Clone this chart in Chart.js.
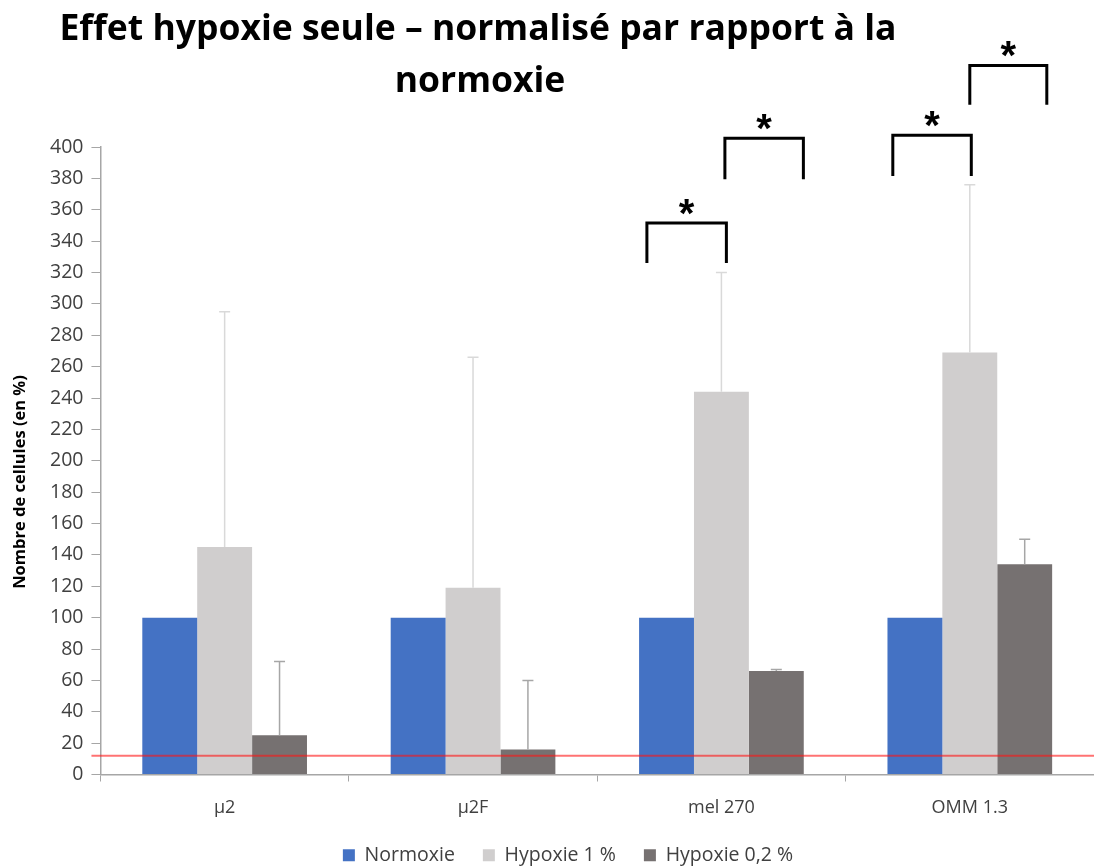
<!DOCTYPE html>
<html>
<head>
<meta charset="utf-8">
<script src="https://cdn.jsdelivr.net/npm/chart.js@4"></script>
<style>
  html, body { margin: 0; padding: 0; background: #fff; overflow: hidden; }
  #wrap { width: 1094px; height: 867px; position: relative; }
</style>
</head>
<body>
<div id="wrap"><canvas id="chart" width="1094" height="867"></canvas></div>
<script>
// Cell lines
const categories = ['µ2', 'µ2F', 'mel 270', 'OMM 1.3'];

// Cell counts normalised to normoxia (%)
const normoxie = [100, 100, 100, 100];
const hypoxie1 = [145, 119, 244, 269];
const hypoxie02 = [25, 16, 66, 134];

// Upper error bar lengths (%)
const hypoxie1Err = [150, 147, 76, 107];
const hypoxie02Err = [47, 44, 1, 16];

// Detection threshold
const seuil = 12;

// Y axis range
const yMin = 0, yMax = 400, yStep = 20;

// Significance brackets: category index, left/right offset (in category widths), top and leg-end values
const brackets = [
  { cat: 2, from: -0.30, to: 0.02, top: 351.5, leg: 326 },
  { cat: 2, from: 0.014, to: 0.33, top: 405.5, leg: 379.5 },
  { cat: 3, from: -0.31, to: 0.006, top: 407.5, leg: 381.5 },
  { cat: 3, from: 0.0, to: 0.31, top: 452, leg: 427 }
];

const errorBars = {
  id: 'errorBars',
  afterDatasetsDraw(chart) {
    const ctx = chart.ctx;
    const y = chart.scales.y;
    const sets = [
      { ds: 1, err: hypoxie1Err, vals: hypoxie1, color: '#d9d9d9' },
      { ds: 2, err: hypoxie02Err, vals: hypoxie02, color: '#a6a6a6' }
    ];
    ctx.save();
    ctx.lineWidth = 1.5;
    sets.forEach(s => {
      const meta = chart.getDatasetMeta(s.ds);
      ctx.strokeStyle = s.color;
      meta.data.forEach((bar, i) => {
        const x = bar.x;
        const y0 = y.getPixelForValue(s.vals[i]);
        const y1 = y.getPixelForValue(s.vals[i] + s.err[i]);
        ctx.beginPath();
        ctx.moveTo(x, y0);
        ctx.lineTo(x, y1);
        ctx.moveTo(x - 5.5, y1);
        ctx.lineTo(x + 5.5, y1);
        ctx.stroke();
      });
    });
    ctx.restore();
  }
};

const thresholdLine = {
  id: 'thresholdLine',
  afterDatasetsDraw(chart) {
    const ctx = chart.ctx;
    const a = chart.chartArea;
    const py = chart.scales.y.getPixelForValue(seuil);
    ctx.save();
    ctx.strokeStyle = 'rgba(255, 20, 20, 0.6)';
    ctx.lineWidth = 2;
    ctx.beginPath();
    ctx.moveTo(a.left - 9, py);
    ctx.lineTo(a.right, py);
    ctx.stroke();
    ctx.restore();
  }
};

const significance = {
  id: 'significance',
  afterDraw(chart) {
    const ctx = chart.ctx;
    const xs = chart.scales.x, ys = chart.scales.y;
    const cw = xs.getPixelForValue(1) - xs.getPixelForValue(0);
    ctx.save();
    ctx.strokeStyle = '#000';
    ctx.lineWidth = 3;
    ctx.lineJoin = 'miter';
    ctx.fillStyle = '#000';
    ctx.font = 'bold 40px "Liberation Sans", sans-serif';
    ctx.textAlign = 'center';
    ctx.textBaseline = 'alphabetic';
    brackets.forEach(b => {
      const c = xs.getPixelForValue(b.cat);
      const x0 = c + b.from * cw, x1 = c + b.to * cw;
      const yt = ys.getPixelForValue(b.top), yl = ys.getPixelForValue(b.leg);
      ctx.beginPath();
      ctx.moveTo(x0, yl);
      ctx.lineTo(x0, yt);
      ctx.lineTo(x1, yt);
      ctx.lineTo(x1, yl);
      ctx.stroke();
      ctx.fillText('*', (x0 + x1) / 2, yt + 4);
    });
    ctx.restore();
  }
};

// Chart title and rotated y-axis title
const titles = {
  id: 'titles',
  afterDraw(chart) {
    const ctx = chart.ctx;
    ctx.save();
    ctx.fillStyle = '#000';
    ctx.font = 'bold 35.5px "Open Sans", sans-serif';
    ctx.textAlign = 'center';
    ctx.textBaseline = 'alphabetic';
    ctx.fillText('Effet hypoxie seule – normalisé par rapport à la', 478, 40);
    ctx.fillText('normoxie', 480, 92);
    ctx.font = 'bold 16.5px "Open Sans", sans-serif';
    ctx.textBaseline = 'middle';
    ctx.translate(20, 482);
    ctx.rotate(-Math.PI / 2);
    ctx.fillText('Nombre de cellules (en %)', 0, 0);
    ctx.restore();
  }
};

new Chart(document.getElementById('chart'), {
  type: 'bar',
  data: {
    labels: categories,
    datasets: [
      { label: 'Normoxie', data: normoxie, backgroundColor: '#4472c4' },
      { label: 'Hypoxie 1 %', data: hypoxie1, backgroundColor: '#d0cece' },
      { label: 'Hypoxie 0,2 %', data: hypoxie02, backgroundColor: '#767171' }
    ]
  },
  options: {
    responsive: false,
    animation: false,
    devicePixelRatio: 1,
    layout: { padding: { top: 147, right: 0, left: 42, bottom: -8 } },
    datasets: { bar: { categoryPercentage: 0.663, barPercentage: 1.0 } },
    plugins: {
      title: { display: false },
      tooltip: { enabled: false },
      legend: {
        position: 'bottom',
        labels: {
          boxWidth: 12, boxHeight: 12, padding: 28,
          color: '#404040',
          font: { family: '"Open Sans", sans-serif', size: 19.5 }
        }
      }
    },
    scales: {
      x: {
        afterFit(scale) { scale.height = 43; },
        grid: { display: true, drawOnChartArea: false, drawTicks: true, tickLength: 7, color: '#a6a6a6', offset: true },
        border: { display: true, color: '#a6a6a6', width: 1.5 },
        ticks: { color: '#404040', padding: 16, font: { family: '"Open Sans", sans-serif', size: 18 } }
      },
      y: {
        min: yMin, max: yMax,
        ticks: { stepSize: yStep, color: '#404040', padding: 8, font: { family: '"Open Sans", sans-serif', size: 19.5 } },
        grid: { display: true, drawOnChartArea: false, drawTicks: true, tickLength: 9, color: '#a6a6a6' },
        border: { display: true, color: '#a6a6a6', width: 1.5 },
        title: { display: false }
      }
    }
  },
  plugins: [thresholdLine, errorBars, significance, titles]
});
</script>
</body>
</html>
